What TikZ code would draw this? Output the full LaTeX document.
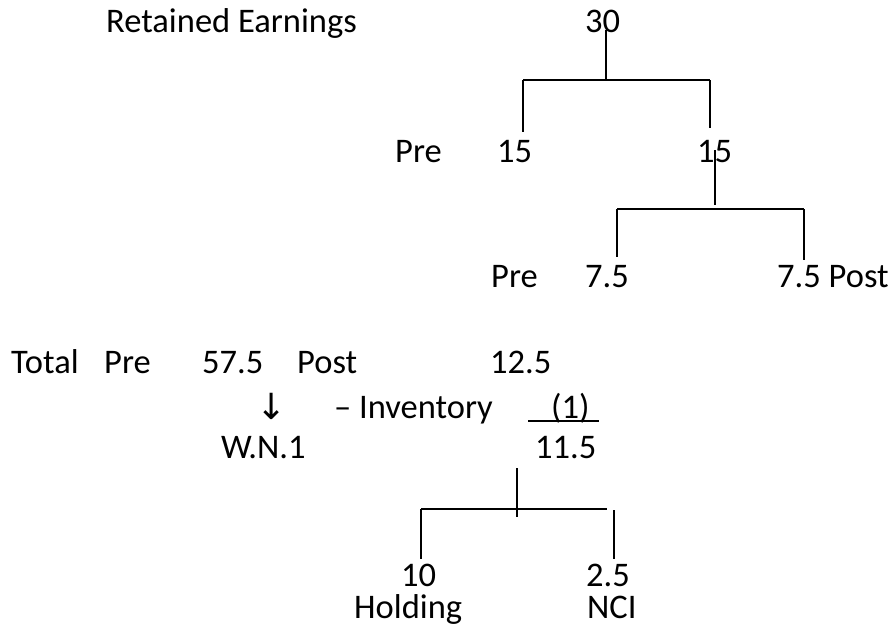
\documentclass[tikz,border=0pt]{standalone}
\usepackage{fontspec}
\setmainfont{Carlito}
\newfontfamily\arrowfont{DejaVu Sans}
\usetikzlibrary{positioning}

\begin{document}
\begin{tikzpicture}[
    x=1pt, y=-1pt,
    lbl/.style={anchor=base west, inner sep=0pt, font=\fontsize{34.5}{40}\selectfont},
    branch/.style={line width=1.2pt}
]
    \useasboundingbox (0,0) rectangle (893,634);

    % first split
    \node[lbl] (retained) at (106,33) {Retained Earnings};
    \node[lbl] (thirty) at (585,33) {30};
    \node[lbl] (prea) at (395,162) {Pre};
    \node[lbl] (fifteenl) at (497,162) {15};
    \node[lbl] (fifteenr) at (697,162) {15};

    \coordinate (atop) at (606,30);
    \coordinate (amid) at (606,80);
    \coordinate (aleft) at (523,80);
    \coordinate (aright) at (710,80);
    \coordinate (alow) at (523,132);
    \coordinate (arlow) at (710,128);
    \draw[branch] (atop) -- (amid);
    \draw[branch] (aleft) -- (aright);
    \draw[branch] (aleft) -- (alow);
    \draw[branch] (aright) -- (arlow);

    % second split
    \node[lbl] (preb) at (491,287) {Pre};
    \node[lbl] (sevenl) at (585,287) {7.5};
    \node[lbl] (sevenr) at (777,287) {7.5 Post};

    \coordinate (btop) at (715,150);
    \coordinate (bmid) at (715,205);
    \coordinate (bleft) at (617,209);
    \coordinate (bright) at (804,209);
    \coordinate (blow) at (617,257);
    \coordinate (brlow) at (804,260);
    \draw[branch] (btop) -- (bmid);
    \draw[branch] (bleft) -- (bright);
    \draw[branch] (bleft) -- (blow);
    \draw[branch] (bright) -- (brlow);

    % totals
    \node[lbl] (total) at (11,373) {Total};
    \node[lbl] (prec) at (104,373) {Pre};
    \node[lbl] (pretot) at (202,373) {57.5};
    \node[lbl] (post) at (297,373) {Post};
    \node[lbl] (posttot) at (490,373) {12.5};
    \node[lbl, font=\arrowfont\fontsize{36}{40}\selectfont] (down) at (256,419) {↓};
    \node[lbl] (inv) at (334,418) {– Inventory};
    \node[lbl] (one) at (551,418) {(1)};
    \draw[line width=2pt] (528,421) -- (599,421);
    \node[lbl] (wn) at (221,458) {W.N.1};
    \node[lbl] (net) at (535,458) {11.5};

    % third split
    \node[lbl] (ten) at (401,586) {10};
    \node[lbl] (nci) at (586,586) {2.5};
    \node[lbl] (holding) at (354,618) {Holding};
    \node[lbl] (ncilbl) at (587,618) {NCI};

    \coordinate (ctop) at (517,468);
    \coordinate (cmid) at (517,517);
    \coordinate (cleft) at (421,509);
    \coordinate (cright) at (607,509);
    \coordinate (clow) at (421,559);
    \coordinate (crtop) at (614,510);
    \coordinate (crlow) at (614,559);
    \draw[branch] (ctop) -- (cmid);
    \draw[branch] (cleft) -- (cright);
    \draw[branch] (cleft) -- (clow);
    \draw[branch] (crtop) -- (crlow);
\end{tikzpicture}
\end{document}
